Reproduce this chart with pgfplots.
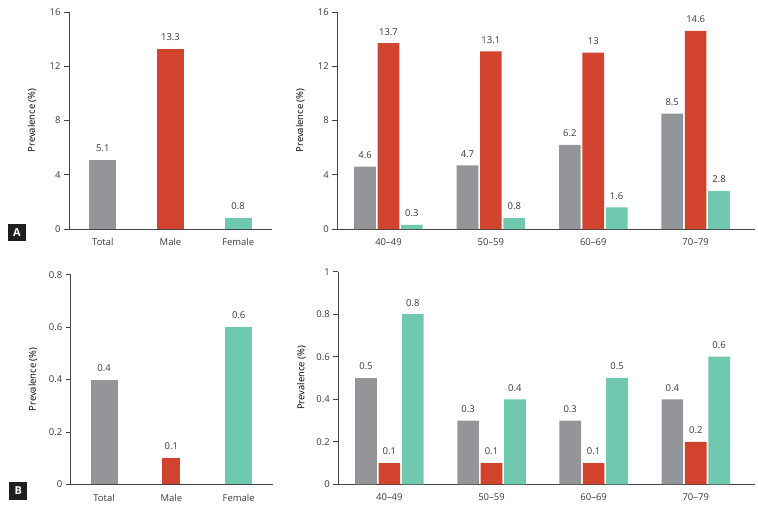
\documentclass[border=0pt]{standalone}
\usepackage{pgfplots}
\pgfplotsset{compat=1.18}
\usepackage{fontspec}
\setmainfont{Open Sans}
\definecolor{cgray}{HTML}{939598}
\definecolor{cred}{HTML}{D2432D}
\definecolor{cteal}{HTML}{6EC9AE}
\definecolor{axiscol}{HTML}{444444}
\definecolor{txtcol}{HTML}{3A3A3A}
\newcommand{\fs}{\fontsize{9.5}{11}\selectfont}
\pgfplotsset{
  panel/.style={
    scale only axis,
    axis x line*=bottom, axis y line*=left,
    axis line style={draw=axiscol, line width=0.8pt},
    ymin=0, enlargelimits=false, clip=false,
    tick align=outside,
    major tick length=5bp,
    major y tick style={draw=axiscol, line width=0.7pt},
    major x tick style={draw=none},
    font=\fs,
    every tick label/.append style={text=txtcol},
    /pgf/number format/assume math mode=true,
    xticklabel style={yshift=-1bp},
    ylabel={Prevalence (\%)},
    nodes near coords,
    nodes near coords style={anchor=south, yshift=4.5bp, text=txtcol, font=\fs, /pgf/number format/assume math mode=true},
  },
  shl/.style={bar shift=-23.4bp, every node near coord/.append style={xshift=-23.4bp}},
  shr/.style={bar shift=23.4bp, every node near coord/.append style={xshift=23.4bp}},
}
\pgfplotstableread{
x tot male female
0 4.6 13.7 0.3
1 4.7 13.1 0.8
2 6.2 13.0 1.6
3 8.5 14.6 2.8
}\tabA
\pgfplotstableread{
x tot male female
0 0.5 0.1 0.8
1 0.3 0.1 0.4
2 0.3 0.1 0.5
3 0.4 0.2 0.6
}\tabB
\begin{document}
\begin{tikzpicture}
\useasboundingbox (0,0) rectangle (758bp,-507bp);
% Top-left
\begin{axis}[panel, at={(69bp,-229bp)}, anchor=south west,
  width=203bp, height=217bp, xmin=-0.5, xmax=2.5, ymax=16,
  xtick={0,1,2}, xticklabels={Total,Male,Female}, ytick={0,4,8,12,16},
  ylabel style={at={(axis description cs:-0.182,0.5)}, anchor=center}]
\addplot[ybar, bar width=27bp, bar shift=0pt, fill=cgray, draw=none] coordinates {(0,5.1)};
\addplot[ybar, bar width=27bp, bar shift=0pt, fill=cred, draw=none] coordinates {(1,13.3)};
\addplot[ybar, bar width=27bp, bar shift=0pt, fill=cteal, draw=none] coordinates {(2,0.8)};
\end{axis}
% Top-right
\begin{axis}[panel, at={(337.3bp,-229bp)}, anchor=south west,
  width=417.7bp, height=217bp, xmin=-0.5, xmax=3.58, ymax=16,
  xtick={0,1,2,3}, xticklabels={40--49,50--59,60--69,70--79}, ytick={0,4,8,12,16},
  ylabel style={at={(axis description cs:-0.0886,0.5)}, anchor=center}]
\addplot[ybar, bar width=21.7bp, shl, fill=cgray, draw=none] table[x=x,y=tot] {\tabA};
\addplot[ybar, bar width=21.7bp, bar shift=0pt, fill=cred, draw=none] table[x=x,y=male] {\tabA};
\addplot[ybar, bar width=21.7bp, shr, fill=cteal, draw=none] table[x=x,y=female] {\tabA};
\end{axis}
% Bottom-left
\begin{axis}[panel, at={(70.7bp,-484.3bp)}, anchor=south west,
  width=202bp, height=209.6bp, xmin=-0.495, xmax=2.505, ymax=0.8,
  xtick={0,1,2}, xticklabels={Total,Male,Female}, ytick={0,0.2,0.4,0.6,0.8},
  ylabel style={at={(axis description cs:-0.187,0.5)}, anchor=center}]
\addplot[ybar, bar width=27bp, bar shift=0pt, fill=cgray, draw=none] coordinates {(0,0.4)};
\addplot[ybar, bar width=18bp, bar shift=0pt, fill=cred, draw=none] coordinates {(1,0.1)};
\addplot[ybar, bar width=27bp, bar shift=0pt, fill=cteal, draw=none] coordinates {(2,0.6)};
\end{axis}
% Bottom-right
\begin{axis}[panel, at={(338.3bp,-484.3bp)}, anchor=south west,
  width=416.7bp, height=212.6bp, xmin=-0.5, xmax=3.58, ymax=1,
  xtick={0,1,2,3}, xticklabels={40--49,50--59,60--69,70--79}, ytick={0,0.2,0.4,0.6,0.8,1},
  ylabel style={at={(axis description cs:-0.088,0.5)}, anchor=center}]
\addplot[ybar, bar width=21.7bp, shl, fill=cgray, draw=none] table[x=x,y=tot] {\tabB};
\addplot[ybar, bar width=21.7bp, bar shift=0pt, fill=cred, draw=none] table[x=x,y=male] {\tabB};
\addplot[ybar, bar width=21.7bp, shr, fill=cteal, draw=none] table[x=x,y=female] {\tabB};
\end{axis}
\node[fill=black!88, text=white, font=\bfseries\fontsize{11}{12}\selectfont, minimum width=18bp, minimum height=17bp, inner sep=0pt] at (17bp,-232.5bp) {A};
\node[fill=black!88, text=white, font=\bfseries\fontsize{11}{12}\selectfont, minimum width=18bp, minimum height=18bp, inner sep=0pt] at (18.3bp,-491bp) {B};
\end{tikzpicture}
\end{document}
